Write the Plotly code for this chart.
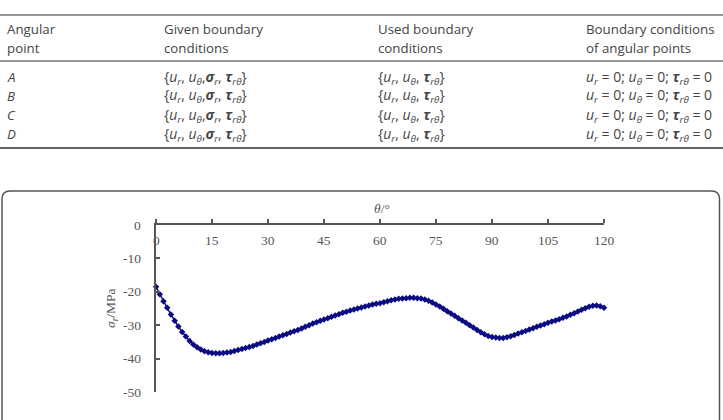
import plotly.graph_objects as go

W, H = 723, 420

# ---------------- data ----------------
table_headers_line1 = ["Angular", "Given boundary", "Used boundary", "Boundary conditions"]
table_headers_line2 = ["point", "conditions", "conditions", "of angular points"]
row_points = ["A", "B", "C", "D"]
given_bc = "{<i>u</i><sub><i>r</i></sub>, <i>u</i><sub><i>θ</i></sub>,<b><i>σ</i></b><sub><i>r</i></sub>, <b><i>τ</i></b><sub><i>rθ</i></sub>}"
used_bc = "{<i>u</i><sub><i>r</i></sub>, <i>u</i><sub><i>θ</i></sub>, <b><i>τ</i></b><sub><i>rθ</i></sub>}"
corner_bc = "<i>u</i><sub><i>r</i></sub> = 0; <i>u</i><sub><i>θ</i></sub> = 0; <b><i>τ</i></b><sub><i>rθ</i></sub> = 0"

theta = list(range(0, 121))
sigma_r = [
    -18.5, -20.7, -22.8, -24.8, -26.8, -28.7, -30.4, -32.0, -33.4, -34.7,
    -35.8, -36.6, -37.3, -37.8, -38.1, -38.3, -38.4, -38.4, -38.3, -38.2,
    -38.0, -37.7, -37.4, -37.1, -36.8, -36.5, -36.2, -35.8, -35.4, -35.0,
    -34.6, -34.2, -33.8, -33.4, -33.0, -32.6, -32.2, -31.8, -31.4, -31.0,
    -30.5, -30.0, -29.5, -29.1, -28.7, -28.3, -27.9, -27.5, -27.1, -26.7,
    -26.3, -26.0, -25.6, -25.3, -25.0, -24.7, -24.4, -24.1, -23.8, -23.6,
    -23.4, -23.1, -22.8, -22.5, -22.3, -22.1, -22.0, -21.9, -21.8, -21.8,
    -21.9, -22.0, -22.3, -22.7, -23.2, -23.8, -24.4, -25.1, -25.8, -26.5,
    -27.2, -27.9, -28.6, -29.3, -30.0, -30.7, -31.4, -32.1, -32.7, -33.2,
    -33.5, -33.7, -33.8, -33.8, -33.6, -33.3, -32.9, -32.5, -32.1, -31.7,
    -31.3, -30.9, -30.5, -30.1, -29.7, -29.3, -28.9, -28.6, -28.2, -27.8,
    -27.4, -26.9, -26.4, -25.9, -25.4, -24.9, -24.5, -24.2, -24.1, -24.3,
    -24.8,
]
x_ticks = [0, 15, 30, 45, 60, 75, 90, 105, 120]
x_tick_labels = ["0", "15", "30", "45", "60", "75", "90", "105", "120"]
y_ticks = [0, -10, -20, -30, -40, -50]
y_tick_labels = ["0", "-10", "-20", "-30", "-40", "-50"]


def px(x):
    return x / W


def py(y):
    return 1 - y / H


TABLE_FONT = dict(family="Open Sans", size=13.3, color="#454545")
MATH_FONT = dict(family="Open Sans", size=14, color="#454545")
SERIF = "Liberation Serif"
AXIS_FONT = dict(family=SERIF, size=13.5, color="#555")

fig = go.Figure()
fig.add_trace(go.Scatter(
    x=theta, y=sigma_r, mode="lines+markers",
    line=dict(color="#101080", width=1.5),
    marker=dict(symbol="diamond", size=5, color="#0a0a82"),
    cliponaxis=False, showlegend=False,
))

annotations = []
col_x = [5, 162, 376, 584]
for i in range(4):
    annotations.append(dict(text=table_headers_line1[i], x=px(col_x[i]), y=py(29),
                            xref="paper", yref="paper", xanchor="left", yanchor="middle",
                            showarrow=False, font=TABLE_FONT))
    annotations.append(dict(text=table_headers_line2[i], x=px(col_x[i]), y=py(48),
                            xref="paper", yref="paper", xanchor="left", yanchor="middle",
                            showarrow=False, font=TABLE_FONT))
row_y = [77, 96, 115, 134]
for j, p in enumerate(row_points):
    cells = ["<i>" + p + "</i>", given_bc, used_bc, corner_bc]
    for i in range(4):
        annotations.append(dict(text=cells[i], x=px(col_x[i]), y=py(row_y[j]),
                                xref="paper", yref="paper", xanchor="left", yanchor="middle",
                                showarrow=False, font=TABLE_FONT if i == 0 else MATH_FONT))

# tick labels (placed through the axes' scales)
for v, t in zip(x_ticks, x_tick_labels):
    annotations.append(dict(text=t, x=v, xref="x", y=py(241), yref="paper",
                            xanchor="center", yanchor="middle", showarrow=False, font=AXIS_FONT))
for v, t in zip(y_ticks, y_tick_labels):
    annotations.append(dict(text=t, x=px(143), xref="paper", y=v, yref="y",
                            xanchor="right", yanchor="middle", showarrow=False, font=AXIS_FONT))

# axis titles
annotations.append(dict(text="<i>θ</i>/°", x=px(382), y=py(208), xref="paper", yref="paper",
                        showarrow=False, font=AXIS_FONT))
annotations.append(dict(text="<i>σ</i><sub><i>r</i></sub>/MPa", x=px(111), y=py(308),
                        xref="paper", yref="paper", textangle=-90,
                        xanchor="center", yanchor="middle",
                        showarrow=False, font=AXIS_FONT))

shapes = []
for yy, wdt, col in [(15, 1.2, "#333"), (61, 1.2, "#333"), (148, 2, "#666")]:
    shapes.append(dict(type="line", xref="paper", yref="paper",
                       x0=0, x1=1, y0=py(yy), y1=py(yy),
                       line=dict(color=col, width=wdt)))

# rounded frame
L, R, T, B, r = 2, 719.5, 191, 440, 8
path = (f"M {px(L)},{py(B)} L {px(L)},{py(T + r)} Q {px(L)},{py(T)} {px(L + r)},{py(T)} "
        f"L {px(R - r)},{py(T)} Q {px(R)},{py(T)} {px(R)},{py(T + r)} L {px(R)},{py(B)}")
shapes.append(dict(type="path", xref="paper", yref="paper", path=path,
                   line=dict(color="#555", width=1.5)))

fig.update_layout(
    width=W, height=H, margin=dict(l=0, r=0, t=0, b=0),
    paper_bgcolor="white", plot_bgcolor="white",
    annotations=annotations, shapes=shapes,
    xaxis=dict(range=[0, 120], domain=[px(156), px(604)], side="top", anchor="y",
               showline=True, linecolor="#555", linewidth=1.5,
               ticks="outside", ticklen=4, tickcolor="#555", tickwidth=1.5,
               tickvals=x_ticks, showticklabels=False,
               showgrid=False, zeroline=False),
    yaxis=dict(range=[-50, 0], domain=[py(392), py(225)],
               showline=True, linecolor="#555", linewidth=1.5,
               ticks="inside", ticklen=4, tickcolor="#555", tickwidth=1.5,
               tickvals=y_ticks, showticklabels=False,
               showgrid=False, zeroline=False),
)

fig.write_html("out.html")
